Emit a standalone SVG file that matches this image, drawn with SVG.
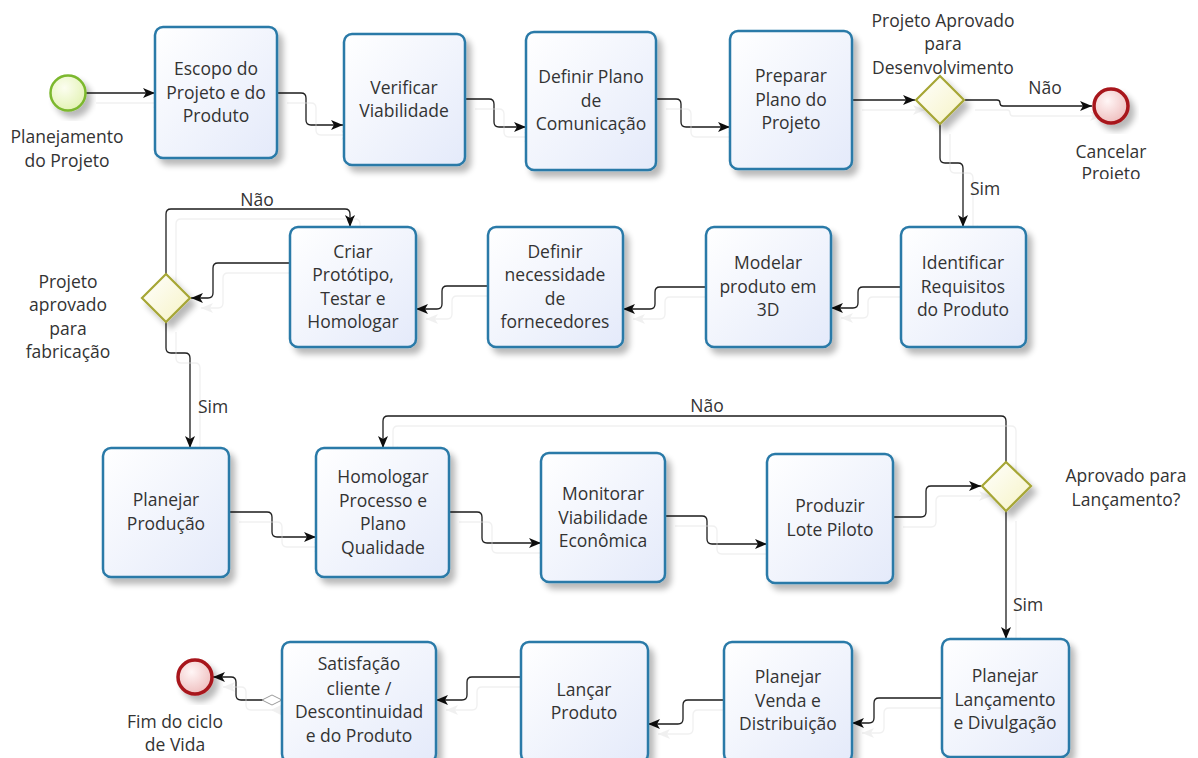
<svg xmlns="http://www.w3.org/2000/svg" width="1198" height="758" viewBox="0 0 1198 758">
<style>
.box{fill:url(#gBox);stroke:#2a7aa8;stroke-width:2.5;filter:url(#sh)}
.gw{fill:url(#gGw);stroke:#a6a634;stroke-width:2.2;filter:url(#sh)}
.t{font-family:"Segoe UI","Open Sans","Noto Sans",sans-serif;font-size:17.5px;fill:#333;text-anchor:middle}
.c{fill:none;stroke:#1e1e1e;stroke-width:1.3;marker-end:url(#arr)}
</style>
<defs>
<linearGradient id="gBox" x1="0" y1="0" x2="1" y2="1"><stop offset="0" stop-color="#ffffff"/><stop offset="1" stop-color="#e4eafa"/></linearGradient>
<linearGradient id="gGw" x1="0" y1="0" x2="1" y2="1"><stop offset="0" stop-color="#ffffff"/><stop offset="1" stop-color="#f6f3c4"/></linearGradient>
<radialGradient id="gStart" cx="0.4" cy="0.35" r="0.7"><stop offset="0" stop-color="#fcfef0"/><stop offset="1" stop-color="#e2f2b2"/></radialGradient>
<radialGradient id="gEnd" cx="0.4" cy="0.35" r="0.7"><stop offset="0" stop-color="#fff6f6"/><stop offset="1" stop-color="#eebcbc"/></radialGradient>
<filter id="sh" x="-20%" y="-20%" width="150%" height="150%">
<feGaussianBlur in="SourceAlpha" stdDeviation="3"/><feOffset dx="5" dy="6" result="b"/>
<feComponentTransfer in="b" result="c"><feFuncA type="linear" slope="0.28"/></feComponentTransfer>
<feMerge><feMergeNode in="c"/><feMergeNode in="SourceGraphic"/></feMerge>
</filter>
<filter id="cs" filterUnits="userSpaceOnUse" x="0" y="0" width="1198" height="758">
<feFlood flood-color="#f0f0f0" result="f"/><feComposite in="f" in2="SourceAlpha" operator="in" result="s"/>
<feOffset in="s" dx="10" dy="10" result="o"/>
<feMerge><feMergeNode in="o"/><feMergeNode in="SourceGraphic"/></feMerge>
</filter>
<marker id="arr" viewBox="0 0 12 10" refX="12" refY="5" markerWidth="12" markerHeight="10" markerUnits="userSpaceOnUse" orient="auto">
<path d="M0,0 L12,5 L0,10 L3,5 Z" fill="#111"/>
</marker>
<marker id="dia" viewBox="0 0 22 12" refX="1" refY="6" markerWidth="22" markerHeight="12" markerUnits="userSpaceOnUse" orient="auto">
<path d="M1,6 L11,1 L21,6 L11,11 Z" fill="#fff" stroke="#9a9a9a" stroke-width="1"/>
</marker>
<clipPath id="clipCancel"><rect x="1040" y="130" width="150" height="49"/></clipPath>
</defs>
<rect width="1198" height="758" fill="#fff"/>

<g id="connectors" filter="url(#cs)">
<path class="c" d="M86,93 H155"/>
<path class="c" d="M277,93 H301 Q306,93 306,98 V120 Q306,125 311,125 H343"/>
<path class="c" d="M465,99 H489 Q494,99 494,104 V122 Q494,127 499,127 H526"/>
<path class="c" d="M656,99 H676 Q681,99 681,104 V122 Q681,127 686,127 H730"/>
<path class="c" d="M852,100 H915"/>
<path class="c" d="M965,100 H997 Q1000,100 1000,103 Q1000,106 1003,106 H1092"/>
<path class="c" d="M940,124 V158 Q940,163 945,163 H958 Q963,163 963,168 V227"/>
<path class="c" d="M901,287 H863 Q858,287 858,292 V303 Q858,308 853,308 H831"/>
<path class="c" d="M706,287 H660 Q655,287 655,292 V304 Q655,309 650,309 H623"/>
<path class="c" d="M488,286 H447 Q442,286 442,291 V304 Q442,309 437,309 H416"/>
<path class="c" d="M290,263 H218 Q213,263 213,268 V293 Q213,298 208,298 H191"/>
<path class="c" d="M166,274 V214 Q166,209 171,209 H345 Q350,209 350,214 V227"/>
<path class="c" d="M166,322 V348 Q166,353 171,353 H185 Q190,353 190,358 V448"/>
<path class="c" d="M229,512 H267 Q272,512 272,517 V532 Q272,537 277,537 H316"/>
<path class="c" d="M449,512 H477 Q482,512 482,517 V538 Q482,543 487,543 H541"/>
<path class="c" d="M665,516 H702 Q707,516 707,521 V539 Q707,544 712,544 H767"/>
<path class="c" d="M893,517 H921 Q926,517 926,512 V491 Q926,486 931,486 H981"/>
<path class="c" d="M1006,462 V421 Q1006,416 1001,416 H388 Q383,416 383,421 V448"/>
<path class="c" d="M1006,511 V639"/>
<path class="c" d="M942,698 H879 Q874,698 874,703 V718 Q874,723 869,723 H852"/>
<path class="c" d="M724,700 H688 Q683,700 683,705 V719 Q683,724 678,724 H648"/>
<path class="c" d="M521,677 H472 Q467,677 467,682 V695 Q467,700 462,700 H436"/>
<path class="c" d="M282,700 H241 Q236,700 236,695 V682 Q236,677 231,677 H213" marker-start="url(#dia)"/>
</g>

<g id="labels-flow">
<text class="t" x="1045" y="94">Não</text>
<text class="t" x="985" y="195">Sim</text>
<text class="t" x="257" y="206">Não</text>
<text class="t" x="213" y="413">Sim</text>
<text class="t" x="707" y="412">Não</text>
<text class="t" x="1028" y="611">Sim</text>
</g>

<g id="start">
<circle cx="68" cy="93" r="17.5" fill="url(#gStart)" stroke="#7cb82e" stroke-width="2.5" filter="url(#sh)"/>
<text class="t" x="67" y="143">Planejamento</text>
<text class="t" x="67" y="167">do Projeto</text>
</g>

<g id="n1"><rect class="box" x="155" y="27" width="122" height="131" rx="8"/>
<text class="t" x="216" y="75">Escopo do</text><text class="t" x="216" y="99">Projeto e do</text><text class="t" x="216" y="122">Produto</text></g>

<g id="n2"><rect class="box" x="344" y="34" width="121" height="131" rx="8"/>
<text class="t" x="404" y="94">Verificar</text><text class="t" x="404" y="117">Viabilidade</text></g>

<g id="n3"><rect class="box" x="526" y="32" width="130" height="138" rx="8"/>
<text class="t" x="591" y="83">Definir Plano</text><text class="t" x="591" y="107">de</text><text class="t" x="591" y="130">Comunicação</text></g>

<g id="n4"><rect class="box" x="730" y="31" width="122" height="138" rx="8"/>
<text class="t" x="791" y="82">Preparar</text><text class="t" x="791" y="106">Plano do</text><text class="t" x="791" y="129">Projeto</text></g>

<g id="gw1"><path class="gw" d="M940,76 L964,100 L940,124 L916,100 Z"/>
<text class="t" x="943" y="27">Projeto Aprovado</text><text class="t" x="943" y="50">para</text><text class="t" x="943" y="74">Desenvolvimento</text></g>

<g id="end1">
<circle cx="1111" cy="106" r="17" fill="url(#gEnd)" stroke="#a8171b" stroke-width="3.5" filter="url(#sh)"/>
<g clip-path="url(#clipCancel)"><text class="t" x="1111" y="158">Cancelar</text><text class="t" x="1111" y="180">Projeto</text></g>
</g>

<g id="n5"><rect class="box" x="901" y="227" width="125" height="120" rx="8"/>
<text class="t" x="963" y="269">Identificar</text><text class="t" x="963" y="293">Requisitos</text><text class="t" x="963" y="316">do Produto</text></g>

<g id="n6"><rect class="box" x="706" y="227" width="125" height="120" rx="8"/>
<text class="t" x="768" y="269">Modelar</text><text class="t" x="768" y="293">produto em</text><text class="t" x="768" y="316">3D</text></g>

<g id="n7"><rect class="box" x="488" y="227" width="135" height="120" rx="8"/>
<text class="t" x="555" y="258">Definir</text><text class="t" x="555" y="281">necessidade</text><text class="t" x="555" y="305">de</text><text class="t" x="555" y="328">fornecedores</text></g>

<g id="n8"><rect class="box" x="290" y="227" width="126" height="120" rx="8"/>
<text class="t" x="353" y="258">Criar</text><text class="t" x="353" y="281">Protótipo,</text><text class="t" x="353" y="305">Testar e</text><text class="t" x="353" y="328">Homologar</text></g>

<g id="gw2"><path class="gw" d="M166,274 L190,298 L166,322 L142,298 Z"/>
<text class="t" x="68" y="288">Projeto</text><text class="t" x="68" y="311">aprovado</text><text class="t" x="68" y="335">para</text><text class="t" x="68" y="358">fabricação</text></g>

<g id="n9"><rect class="box" x="103" y="448" width="126" height="129" rx="8"/>
<text class="t" x="166" y="506">Planejar</text><text class="t" x="166" y="530">Produção</text></g>

<g id="n10"><rect class="box" x="316" y="448" width="133" height="129" rx="8"/>
<text class="t" x="383" y="483">Homologar</text><text class="t" x="383" y="507">Processo e</text><text class="t" x="383" y="530">Plano</text><text class="t" x="383" y="554">Qualidade</text></g>

<g id="n11"><rect class="box" x="541" y="453" width="124" height="129" rx="8"/>
<text class="t" x="603" y="500">Monitorar</text><text class="t" x="603" y="524">Viabilidade</text><text class="t" x="603" y="547">Econômica</text></g>

<g id="n12"><rect class="box" x="767" y="454" width="126" height="129" rx="8"/>
<text class="t" x="830" y="512">Produzir</text><text class="t" x="830" y="536">Lote Piloto</text></g>

<g id="gw3"><path class="gw" d="M1006,462 L1031,486 L1006,511 L982,486 Z"/>
<text class="t" x="1126" y="482">Aprovado para</text><text class="t" x="1126" y="506">Lançamento?</text></g>

<g id="n13"><rect class="box" x="942" y="639" width="127" height="118" rx="8"/>
<text class="t" x="1005" y="682">Planejar</text><text class="t" x="1005" y="706">Lançamento</text><text class="t" x="1005" y="729">e Divulgação</text></g>

<g id="n14"><rect class="box" x="724" y="642" width="128" height="120" rx="8"/>
<text class="t" x="788" y="683">Planejar</text><text class="t" x="788" y="707">Venda e</text><text class="t" x="788" y="730">Distribuição</text></g>

<g id="n15"><rect class="box" x="521" y="642" width="127" height="120" rx="8"/>
<text class="t" x="584" y="696">Lançar</text><text class="t" x="584" y="719">Produto</text></g>

<g id="n16"><rect class="box" x="282" y="642" width="154" height="120" rx="8"/>
<text class="t" x="359" y="670">Satisfação</text><text class="t" x="359" y="695">cliente /</text><text class="t" x="359" y="718">Descontinuidad</text><text class="t" x="359" y="742">e do Produto</text></g>

<g id="end2">
<circle cx="195" cy="677" r="17" fill="url(#gEnd)" stroke="#a8171b" stroke-width="3.5" filter="url(#sh)"/>
<text class="t" x="175" y="728">Fim do ciclo</text><text class="t" x="175" y="751">de Vida</text>
</g>
</svg>
